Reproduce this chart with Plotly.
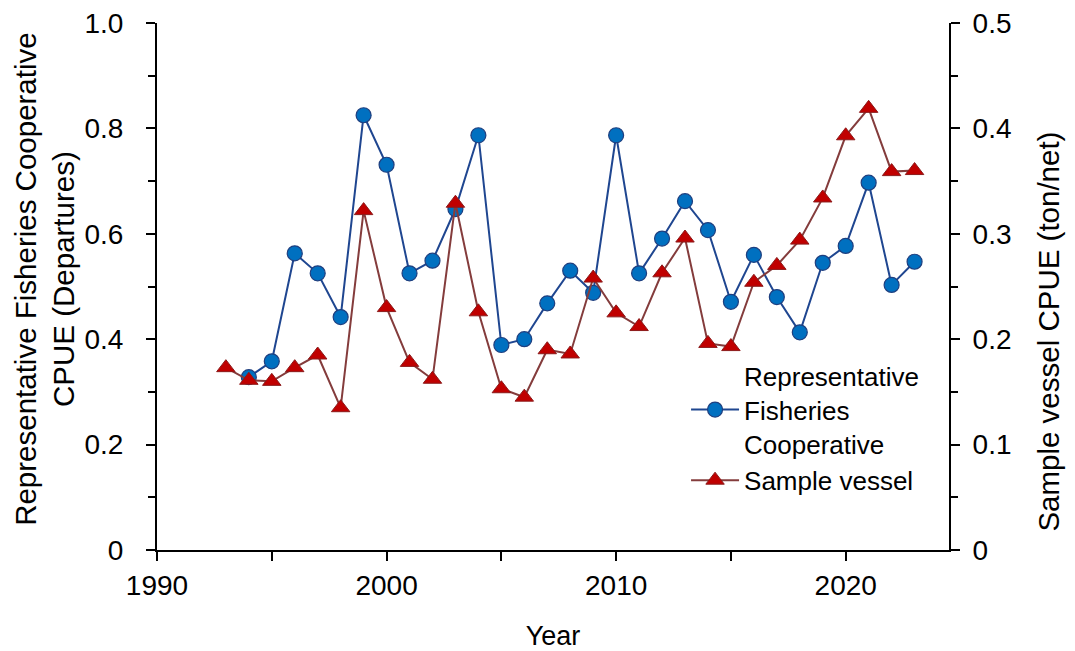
import plotly.graph_objects as go

# 代表渔协 CPUE（左轴）
coop_years = list(range(1994, 2024))
coop_cpue = [0.328, 0.358, 0.563, 0.525, 0.442, 0.825, 0.731, 0.525, 0.549, 0.647,
             0.787, 0.389, 0.400, 0.468, 0.530, 0.488, 0.787, 0.525, 0.591, 0.662,
             0.607, 0.471, 0.560, 0.480, 0.413, 0.545, 0.577, 0.697, 0.503, 0.547]

# 样本船 CPUE（右轴）
vessel_years = list(range(1993, 2024))
vessel_cpue = [0.173, 0.161, 0.160, 0.173, 0.185, 0.135, 0.322, 0.230, 0.178, 0.162,
               0.329, 0.226, 0.153, 0.145, 0.190, 0.186, 0.258, 0.225, 0.212, 0.263,
               0.296, 0.196, 0.193, 0.254, 0.270, 0.294, 0.334, 0.393, 0.419, 0.359,
               0.360]

left_ticks = [0, 0.2, 0.4, 0.6, 0.8, 1.0]
left_labels = ['0', '0.2', '0.4', '0.6', '0.8', '1.0']
right_ticks = [0, 0.1, 0.2, 0.3, 0.4, 0.5]
right_labels = ['0', '0.1', '0.2', '0.3', '0.4', '0.5']

FONT = 'Liberation Sans, Arial, sans-serif'

fig = go.Figure()

fig.add_trace(go.Scatter(
    x=coop_years, y=coop_cpue,
    mode='lines+markers',
    name='Representative<br>Fisheries<br>Cooperative',
    line=dict(color='#1F4690', width=2),
    marker=dict(symbol='circle', size=15, color='#0070C0',
                line=dict(color='#1F3F7F', width=1.2))
))

fig.add_trace(go.Scatter(
    x=vessel_years, y=vessel_cpue,
    mode='lines+markers',
    name='Sample vessel',
    yaxis='y2',
    line=dict(color='#843C3C', width=2),
    marker=dict(symbol='triangle-up', size=16, color='#C00000',
                line=dict(color='#8B1A1A', width=1))
))

axis_common = dict(
    showline=True, linecolor='black', linewidth=2,
    ticks='outside', ticklen=9, tickwidth=2, tickcolor='black',
    showgrid=False, zeroline=False, ticklabeloverflow='allow',
    automargin=False,
    tickfont=dict(family=FONT, size=28, color='black'),
)

# 页面 body 有 8px 边距，这里把图缩小 8px 来抵消
fig.update_layout(
    width=1067, height=643,
    margin=dict(l=149, r=126, t=15, b=101, autoexpand=False),
    plot_bgcolor='white', paper_bgcolor='white',
    font=dict(family=FONT, size=27, color='black'),
    showlegend=True,
    legend=dict(x=0.668, y=0.375, xanchor='left', yanchor='top',
                bgcolor='rgba(0,0,0,0)', itemwidth=48,
                font=dict(family=FONT, size=26, color='black'),
                tracegroupgap=0),
    xaxis=dict(
        range=[1990, 2024.5], tick0=1990, dtick=10,
        minor=dict(dtick=5, tick0=1990, ticks='outside', ticklen=9,
                   tickwidth=2, tickcolor='black', showgrid=False),
        title=dict(text='Year', standoff=36,
                   font=dict(family=FONT, size=27, color='black')),
        **axis_common
    ),
    yaxis=dict(
        range=[0, 1.0], tickmode='array', tickvals=left_ticks, ticktext=left_labels,
        minor=dict(dtick=0.1, tick0=0, ticks='outside', ticklen=7,
                   tickwidth=2, tickcolor='black', showgrid=False),
        ticklabelstandoff=17,
        **axis_common
    ),
    yaxis2=dict(
        range=[0, 0.5], overlaying='y', side='right', anchor='x',
        tickmode='array', tickvals=right_ticks, ticktext=right_labels,
        minor=dict(dtick=0.05, tick0=0, ticks='outside', ticklen=7,
                   tickwidth=2, tickcolor='black', showgrid=False),
        ticklabelstandoff=7,
        **axis_common
    ),
    annotations=[
        dict(text='Representative Fisheries Cooperative<br>CPUE (Departures)',
             xref='paper', yref='paper', x=-0.143, y=0.514,
             xanchor='center', yanchor='middle', textangle=-90, showarrow=False,
             font=dict(family=FONT, size=29.5, color='black')),
        dict(text='Sample vessel CPUE (ton/net)',
             xref='paper', yref='paper', x=1.126, y=0.414,
             xanchor='center', yanchor='middle', textangle=-90, showarrow=False,
             font=dict(family=FONT, size=29.5, color='black')),
    ]
)

fig.write_html("out.html")
